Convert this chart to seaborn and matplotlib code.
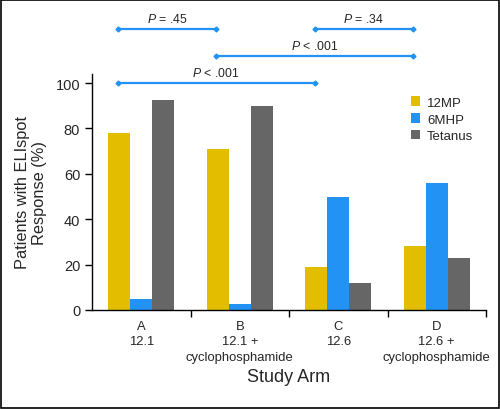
import pandas as pd
import matplotlib
matplotlib.use('Agg')
import matplotlib.pyplot as plt
from matplotlib.patches import Patch, Rectangle
import seaborn as sns

# 데이터
arms = ['A\n12.1', 'B\n12.1 +\ncyclophosphamide', 'C\n12.6', 'D\n12.6 +\ncyclophosphamide']
antigens = ['12MP', '6MHP', 'Tetanus']
pct_12mp = [78, 71, 19, 28]
pct_6mhp = [5, 2.5, 50, 56]
pct_tetanus = [92.5, 90, 12, 23]

# 비교 괄호 (왼쪽 arm, 오른쪽 arm, 높이, 텍스트)
bracket_left = [0, 1, 0, 2]
bracket_right = [2, 3, 1, 3]
bracket_level = [100, 112, 124, 124]
bracket_text = ['< .001', '< .001', '= .45', '= .34']

colors = ['#E3BE00', '#2392F5', '#666666']

sns.set_style('white')
plt.rcParams['font.family'] = ['Liberation Sans Narrow', 'Liberation Sans', 'DejaVu Sans']
plt.rcParams['mathtext.fontset'] = 'custom'
plt.rcParams['mathtext.it'] = 'Liberation Sans:italic'
plt.rcParams['mathtext.rm'] = 'Liberation Sans'

df = pd.DataFrame({
    'arm': arms * 3,
    'antigen': [a for a in antigens for _ in arms],
    'pct': pct_12mp + pct_6mhp + pct_tetanus,
})

fig = plt.figure(figsize=(5, 4.1), dpi=100)
ax = fig.add_axes([0.184, 0.2415, 0.788, 0.5756])
sns.barplot(data=df, x='arm', y='pct', hue='antigen', palette=colors,
            width=0.67, saturation=1, linewidth=0, legend=False, ax=ax)

ax.set_xlim(-0.5, 3.5)
ax.set_ylim(0, 104)
ax.set_yticks([0, 20, 40, 60, 80, 100])
ax.tick_params(axis='y', labelsize=10.5, length=5, width=1, color='black', direction='out', left=True)
ax.tick_params(axis='x', which='major', labelsize=9.4, length=0, pad=7)
for lab in ax.get_xticklabels():
    lab.set_linespacing(1.4)
ax.set_xticks([0.5, 1.5, 2.5, 3.5], minor=True)
ax.tick_params(axis='x', which='minor', length=5, width=1, color='black', direction='out', bottom=True)
for sp in ['top', 'right']:
    ax.spines[sp].set_visible(False)
for sp in ['left', 'bottom']:
    ax.spines[sp].set_color('black')
    ax.spines[sp].set_linewidth(1)

ax.set_ylabel('Patients with ELIspot\nResponse (%)', fontsize=11.8, labelpad=6)
ax.set_xlabel('Study Arm', fontsize=13, labelpad=4)

# 범례
handles = [Patch(facecolor=c, edgecolor='none', label=a) for c, a in zip(colors, antigens)]
ax.legend(handles=handles, loc='upper left', bbox_to_anchor=(0.78, 0.955), frameon=False,
          fontsize=9.5, handlelength=0.7, handleheight=0.7, handletextpad=0.5, labelspacing=0.35)

# 비교 괄호
for l, r, lev, t in zip(bracket_left, bracket_right, bracket_level, bracket_text):
    xs = [l - 0.24, r - 0.24]
    ax.plot(xs, [lev, lev], color='#2392F5', lw=1.6, marker='D', ms=2.5, clip_on=False)
    ax.text(sum(xs) / 2, lev + 1.8, r'$\it{P}$ ' + t, ha='center', va='bottom', fontsize=8.8)

# 테두리
fig.patches.append(Rectangle((0.002, 0.002), 0.996, 0.996, transform=fig.transFigure,
                             fill=False, edgecolor='black', lw=1.2))

fig.savefig('out.png', dpi=100)
